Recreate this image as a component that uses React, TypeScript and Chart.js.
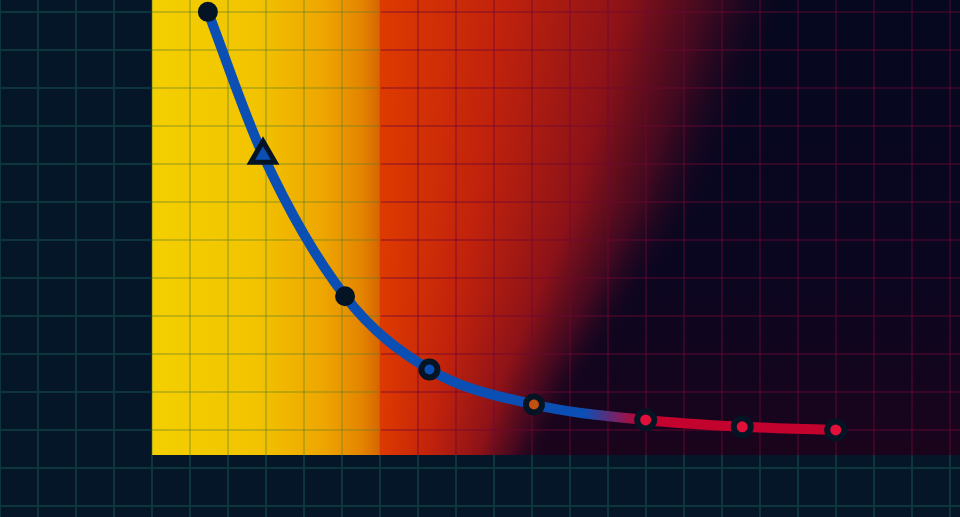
import React, { useEffect, useRef } from "react";
import { Chart, registerables } from "chart.js";

Chart.register(...registerables);

// decay readings, x in grid units from the zone start, y in percent
const xValues = [1.47, 2.92, 5.08, 7.3, 10.05, 12.99, 15.53, 17.99];
const yValues = [97.4, 65.9, 34.9, 18.8, 11.1, 7.7, 6.2, 5.5];
const pointStyles = ["circle", "triangle", "circle", "circle", "circle", "circle", "circle", "circle"];
const pointFills = ["#041424", "#0b4fb4", "#041424", "#0b4fb4", "#c4500e", "#e0103a", "#e0103a", "#e0103a"];
const ZONE_SPLIT = 6; // where the yellow zone ends
const X_MAX = 21.26;
const Y_MAX = 100;

const GRID_STEP = 38;
const GRID_OFFSET_Y = 12;
const DARK = "#041424";
const BLUE = "#0b4fb4";
const RED = "#c4022e";

// where the red glow has faded out, px from zone top -> px x
const GLOW_EDGE: [number, number][] = [
  [0, 790],
  [100, 748],
  [200, 705],
  [300, 640],
  [380, 585],
  [455, 545],
];

function glowEdge(y: number) {
  for (let i = 1; i < GLOW_EDGE.length; i++) {
    const [y0, x0] = GLOW_EDGE[i - 1];
    const [y1, x1] = GLOW_EDGE[i];
    if (y <= y1) return x0 + ((y - y0) / (y1 - y0)) * (x1 - x0);
  }
  return GLOW_EDGE[GLOW_EDGE.length - 1][1];
}

function drawGrid(ctx: CanvasRenderingContext2D, w: number, h: number, color: string) {
  ctx.fillStyle = color;
  for (let x = 0; x <= w + GRID_STEP; x += GRID_STEP) ctx.fillRect(x - 1, 0, 2, h);
  for (let y = GRID_OFFSET_Y; y <= h + GRID_STEP; y += GRID_STEP) ctx.fillRect(0, y - 1, w, 2);
}

const backdrop = {
  id: "backdrop",
  beforeDraw(chart: any) {
    const { ctx, width, height, chartArea: a, scales } = chart;
    const split = scales.x.getPixelForValue(ZONE_SPLIT);
    const h = a.bottom - a.top;
    ctx.save();
    ctx.fillStyle = "#041628";
    ctx.fillRect(0, 0, width, height);
    drawGrid(ctx, width, height, "#0c363c");

    // dark base of the zone
    const base = ctx.createLinearGradient(0, a.top, 0, a.bottom);
    base.addColorStop(0, "#05081f");
    base.addColorStop(0.6, "#0b0620");
    base.addColorStop(1, "#1a041c");
    ctx.fillStyle = base;
    ctx.fillRect(a.left, a.top, a.right - a.left, h);

    // yellow zone
    const yel = ctx.createLinearGradient(a.left, 0, split, 0);
    yel.addColorStop(0, "#f3cf00");
    yel.addColorStop(0.45, "#f2c400");
    yel.addColorStop(0.75, "#eea600");
    yel.addColorStop(0.92, "#e48400");
    yel.addColorStop(1, "#d66400");
    ctx.fillStyle = yel;
    ctx.fillRect(a.left, a.top, split - a.left, h);

    // red glow, row by row so the fade edge can curve
    for (let y = a.top; y < a.bottom; y += 2) {
      const xb = glowEdge(y - a.top);
      const g = ctx.createLinearGradient(split, 0, xb, 0);
      g.addColorStop(0, "rgba(222,58,0,1)");
      g.addColorStop(0.3, "rgba(192,34,12,1)");
      g.addColorStop(0.6, "rgba(140,18,24,1)");
      g.addColorStop(0.8, "rgba(80,10,32,0.8)");
      g.addColorStop(0.92, "rgba(40,6,32,0.4)");
      g.addColorStop(1, "rgba(20,4,30,0)");
      ctx.fillStyle = g;
      ctx.fillRect(split, y, a.right - split, Math.min(2, a.bottom - y));
    }

    // grid tints inside the zone
    ctx.save();
    ctx.beginPath();
    ctx.rect(a.left, a.top, split - a.left, h);
    ctx.clip();
    drawGrid(ctx, width, height, "rgba(100,130,40,0.35)");
    ctx.restore();
    ctx.save();
    ctx.beginPath();
    ctx.rect(split + 1, a.top, a.right - split, h);
    ctx.clip();
    drawGrid(ctx, width, height, "rgba(110,8,50,0.4)");
    ctx.restore();
    ctx.restore();
  },
};

const DecayChart: React.FC = () => {
  const chartRef = useRef<HTMLCanvasElement | null>(null);

  useEffect(() => {
    if (!chartRef.current) return;
    const ctx = chartRef.current.getContext("2d");
    if (!ctx) return;

    const chart = new Chart(ctx, {
      type: "line",
      data: {
        datasets: [
          {
            data: xValues.map((x, i) => ({ x, y: yValues[i] })),
            borderWidth: 10,
            borderColor: (c: any) => {
              const { chart: ch } = c;
              if (!ch.chartArea) return BLUE;
              const sx = ch.scales.x;
              const p5 = sx.getPixelForValue(xValues[4]);
              const p6 = sx.getPixelForValue(xValues[5]);
              const g = ch.ctx.createLinearGradient(p5 + 0.45 * (p6 - p5), 0, p5 + 0.95 * (p6 - p5), 0);
              g.addColorStop(0, BLUE);
              g.addColorStop(1, RED);
              return g;
            },
            cubicInterpolationMode: "monotone",
            pointStyle: pointStyles as any,
            pointRadius: [9, 14, 9, 8, 8, 8.5, 8.5, 8.5],
            pointBorderWidth: [2, 5, 2, 6, 6, 6, 6, 6],
            pointBackgroundColor: pointFills,
            pointBorderColor: DARK,
            clip: false as any,
          },
        ],
      },
      options: {
        responsive: false,
        animation: false,
        layout: { autoPadding: false, padding: { left: 152, right: 0, top: 0, bottom: 62 } },
        plugins: { legend: { display: false }, tooltip: { enabled: false } },
        events: [],
        scales: {
          x: { type: "linear", min: 0, max: X_MAX, display: false },
          y: { type: "linear", min: 0, max: Y_MAX, display: false },
        },
      },
      plugins: [backdrop],
    });

    return () => {
      chart.destroy();
    };
  }, []);

  return <canvas ref={chartRef} width={960} height={517} style={{ display: "block" }} />;
};

export default function App() {
  return (
    <div style={{ position: "fixed", left: 0, top: 0, width: 960, height: 517, background: "#041628" }}>
      <DecayChart />
    </div>
  );
}
